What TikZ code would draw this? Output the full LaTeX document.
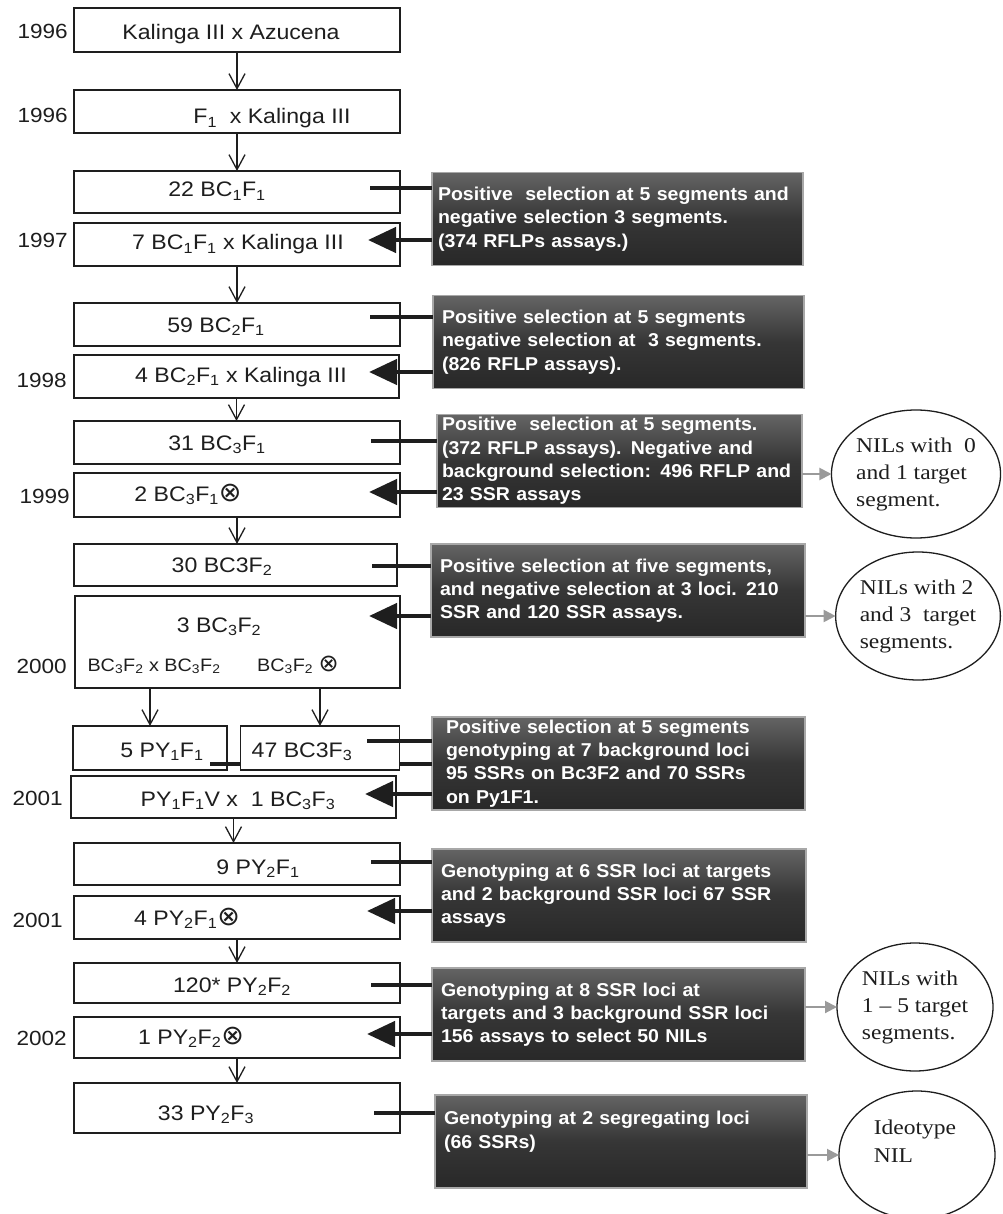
\documentclass[tikz,border=0pt]{standalone}
\usepackage{fontspec}
\usetikzlibrary{arrows.meta,shapes.geometric}
\newfontfamily\lfont{Liberation Sans}[FakeStretch=1.1]
\newfontfamily\dfont{Liberation Sans}[FakeStretch=1.05]
\newfontfamily\cfont{Liberation Serif}[FakeStretch=1.12]
\newfontfamily\symf{DejaVu Sans}
\definecolor{dbtop}{HTML}{646464}
\definecolor{dbmid}{HTML}{363636}
\definecolor{dbbot}{HTML}{282828}
\definecolor{dbedge}{HTML}{A8A8A8}
\definecolor{garr}{HTML}{9A9A9A}
\definecolor{ink}{HTML}{1E1E1E}
\newcommand\ox{{\symf\fontsize{27}{27}\selectfont ⊗}}
\newcommand\oxs{{\symf\fontsize{24}{24}\selectfont ⊗}}
\newcommand\sbs[1]{\textsubscript{#1}}
\tikzset{
 lbox/.style={draw=ink, line width=1.4pt, fill=white, rectangle, inner sep=0pt, outer sep=0pt},
 ltext/.style={anchor=base, inner sep=0pt, font=\lfont\fontsize{21}{25}\selectfont, text=ink},
 stext/.style={anchor=base, inner sep=0pt, font=\lfont\fontsize{18}{22}\selectfont, text=ink},
 ytext/.style={anchor=base east, inner sep=0pt, font=\lfont\fontsize{20.5}{25}\selectfont, text=ink},
 dbox/.style={rectangle, draw=dbedge, line width=1.2pt, top color=dbtop, bottom color=dbbot, middle color=dbmid, minimum height=93pt, inner xsep=9pt, inner ysep=0pt, outer sep=0pt, align=left, text=white, font=\dfont\bfseries\fontsize{18.6}{23.3}\selectfont},
 ell/.style={ellipse, draw=ink, line width=1.3pt, minimum width=156pt, minimum height=128pt, inner sep=0pt, outer sep=0pt, align=left, font=\cfont\fontsize{21}{27}\selectfont, text=ink},
 ctext/.style={inner sep=0pt, align=left, font=\cfont\fontsize{21}{28}\selectfont, text=ink},
 down/.style={draw=ink, line width=1.3pt, -{Straight Barb[length=15pt,width=16pt]}},
 heavy/.style={draw=ink, line width=4.5pt},
 back/.style={draw=ink, line width=4.5pt, -{Triangle[length=28pt,width=25pt]}},
 grayarrow/.style={draw=garr, line width=2pt, -{Triangle[length=12pt,width=12pt]}},
}
\begin{document}
\begin{tikzpicture}[x=1pt,y=-1pt]
\useasboundingbox (0,0) rectangle (1002,1214);
\fill[white] (0,0) rectangle (1002,1214);

% dark boxes
\node[dbox, inner xsep=6pt, text width=359pt] (db1) at (617.5,219) {Positive\ \ selection at 5 segments and\\negative selection 3 segments.\\(374 RFLPs assays.)};
\node[dbox, text width=353pt] (db2) at (618.5,342) {Positive selection at 5 segments\\negative selection at\ \ 3 segments.\\(826 RFLP assays).};
\node[dbox, inner xsep=5pt, text width=355pt] (db3) at (619.5,461) {Positive\ \ selection at 5 segments.\\(372 RFLP assays). Negative and\\background selection: 496 RFLP and\\23 SSR assays};
\node[dbox, text width=356pt] (db4) at (618,590.5) {Positive selection at five segments,\\and negative selection at 3 loci. 210\\SSR and 120 SSR assays.};
\node[dbox, inner xsep=14pt, text width=345pt] (db5) at (618.5,763.5) {Positive selection at 5 segments\\genotyping at 7 background loci\\95 SSRs on Bc3F2 and 70 SSRs\\on Py1F1.};
\node[dbox, text width=356pt] (db6) at (619,895.5) {Genotyping at 6 SSR loci at targets\\and 2 background SSR loci 67 SSR\\assays};
\node[dbox, text width=355pt] (db7) at (618.5,1014.5) {Genotyping at 8 SSR loci at\\targets and 3 background SSR loci\\156 assays to select 50 NILs};
\node[dbox, text width=354pt] (db8) at (621,1141.5) {Genotyping at 2 segregating loci\\(66 SSRs)\\\mbox{}};

% ellipses
\node[ell] (e1) at (916,474) {NILs with\ \ 0\\and 1 target\\segment.};
\node[ell] (e2) at (918,616) {NILs with 2\\and 3\ \ target\\segments.};
\node[ell] (e3) at (915,1007) {NILs with\\1 – 5 target\\segments.};
\node[ell] (e4) at (917,1155) {};
\node[ctext] (e4t) at (915,1141) {Ideotype\\NIL};

% left boxes
\node[lbox, minimum width=326pt, minimum height=44pt] (b1) at (237,30) {};
\node[lbox, minimum width=326pt, minimum height=43pt] (b2) at (237,111.5) {};
\node[lbox, minimum width=326pt, minimum height=42pt] (b3) at (237,192) {};
\node[lbox, minimum width=326pt, minimum height=43pt] (b4) at (237,244.5) {};
\node[lbox, minimum width=326pt, minimum height=43pt] (b5) at (237,324.5) {};
\node[lbox, minimum width=325pt, minimum height=43pt] (b6) at (236.5,376.5) {};
\node[lbox, minimum width=326pt, minimum height=43pt] (b7) at (237,442.5) {};
\node[lbox, minimum width=326pt, minimum height=44pt] (b8) at (237,495) {};
\node[lbox, minimum width=323pt, minimum height=42pt] (b9) at (235.5,565) {};
\node[lbox, minimum width=325pt, minimum height=92pt] (b10) at (237.5,642) {};
\node[lbox, minimum width=154pt, minimum height=44pt] (b11) at (150,748) {};
\coordinate (h5b) at (210,764);
\draw[heavy] (h5b) -- (h5b -| db5.west);
\node[lbox, minimum width=159pt, minimum height=44pt] (b12) at (320,748) {};
\node[lbox, minimum width=325pt, minimum height=42pt] (b13) at (233.5,797) {};
\node[lbox, minimum width=326pt, minimum height=42pt] (b14) at (237,864) {};
\node[lbox, minimum width=326pt, minimum height=43pt] (b15) at (237,917.5) {};
\node[lbox, minimum width=326pt, minimum height=40pt] (b16) at (237,983) {};
\node[lbox, minimum width=326pt, minimum height=41pt] (b17) at (237,1037.5) {};
\node[lbox, minimum width=326pt, minimum height=50pt] (b18) at (237,1108) {};

% box texts
\node[ltext] (t1) at (231,40) {Kalinga III x Azucena};
\node[ltext] (t2) at (272,124) {F\sbs{1}\ \ x Kalinga III};
\node[ltext] (t3) at (217,197) {22 BC\sbs{1}F\sbs{1}};
\node[ltext] (t4) at (238,250) {7 BC\sbs{1}F\sbs{1} x Kalinga III};
\node[ltext] (t5) at (216,332) {59 BC\sbs{2}F\sbs{1}};
\node[ltext] (t6) at (241,382) {4 BC\sbs{2}F\sbs{1} x Kalinga III};
\node[ltext] (t7) at (217,450) {31 BC\sbs{3}F\sbs{1}};
\node[ltext] (t8) at (188,501) {2 BC\sbs{3}F\sbs{1}\ox};
\node[ltext] (t9) at (222,572) {30 BC3F\sbs{2}};
\node[ltext] (t10) at (219,632) {3 BC\sbs{3}F\sbs{2}};
\node[stext] (t10a) at (154,671) {BC\sbs{3}F\sbs{2} x BC\sbs{3}F\sbs{2}};
\node[stext] (t10b) at (298,671) {BC\sbs{3}F\sbs{2} \oxs};
\node[ltext] (t11) at (162,757) {5 PY\sbs{1}F\sbs{1}};
\node[ltext] (t12) at (302,757) {47 BC3F\sbs{3}};
\node[ltext] (t13) at (238,806) {PY\sbs{1}F\sbs{1}V x\ \ 1 BC\sbs{3}F\sbs{3}};
\node[ltext] (t14) at (258,874) {9 PY\sbs{2}F\sbs{1}};
\node[ltext] (t15) at (187,925) {4 PY\sbs{2}F\sbs{1}\ox};
\node[ltext] (t16) at (232,992) {120* PY\sbs{2}F\sbs{2}};
\node[ltext] (t17) at (191,1044) {1 PY\sbs{2}F\sbs{2}\ox};
\node[ltext] (t18) at (206,1120) {33 PY\sbs{2}F\sbs{3}};

% years
\node[ytext] (y1) at (68,39) {1996};
\node[ytext] (y2) at (68,123) {1996};
\node[ytext] (y3) at (68,248) {1997};
\node[ytext] (y4) at (67,387) {1998};
\node[ytext] (y5) at (70,503) {1999};
\node[ytext] (y6) at (67,673) {2000};
\node[ytext] (y7) at (63,805) {2001};
\node[ytext] (y8) at (63,927) {2001};
\node[ytext] (y9) at (67,1045) {2002};

% thin downward arrows
\draw[down] (b1.south) -- (b2.north);
\draw[down] (b2.south) -- (b3.north);
\draw[down] (b4.south) -- (b5.north);
\draw[down] (b6.south) -- (b6.south |- b7.north);
\draw[down] (b8.south) -- (b8.south |- b9.north);
\draw[down] (b11.north |- b10.south) -- (b11.north);
\draw[down] (b12.north |- b10.south) -- (b12.north);
\draw[down] (b13.south) -- (b13.south |- b14.north);
\draw[down] (b15.south) -- (b16.north);
\draw[down] (b17.south) -- (b18.north);

% heavy lines and arrows
\coordinate (h1) at (370,188);  \draw[heavy] (h1) -- (h1 -| db1.west);
\coordinate (k1) at (368,240);  \draw[back] (k1 -| db1.west) -- (k1);
\coordinate (h2) at (370,317);  \draw[heavy] (h2) -- (h2 -| db2.west);
\coordinate (k2) at (369,372);  \draw[back] (k2 -| db2.west) -- (k2);
\coordinate (h3) at (371,441);  \draw[heavy] (h3) -- (h3 -| db3.west);
\coordinate (k3) at (369,492);  \draw[back] (k3 -| db3.west) -- (k3);
\coordinate (h4) at (372,566);  \draw[heavy] (h4) -- (h4 -| db4.west);
\coordinate (k4) at (369,616);  \draw[back] (k4 -| db4.west) -- (k4);
\coordinate (h5) at (367,741);  \draw[heavy] (h5) -- (h5 -| db5.west);
\coordinate (k5) at (365,794);  \draw[back] (k5 -| db5.west) -- (k5);
\coordinate (h6) at (371,862);  \draw[heavy] (h6) -- (h6 -| db6.west);
\coordinate (k6) at (367,911);  \draw[back] (k6 -| db6.west) -- (k6);
\coordinate (h7) at (371,985);  \draw[heavy] (h7) -- (h7 -| db7.west);
\coordinate (k7) at (367,1034); \draw[back] (k7 -| db7.west) -- (k7);
\coordinate (h8) at (374,1113); \draw[heavy] (h8) -- (h8 -| db8.west);

% gray arrows to ellipses
\draw[grayarrow] (db3.east |- e1.west) -- (e1.west);
\draw[grayarrow] (db4.east |- e2.west) -- (e2.west);
\draw[grayarrow] (db7.east |- e3.west) -- (e3.west);
\draw[grayarrow] (db8.east |- e4.west) -- (e4.west);
\end{tikzpicture}
\end{document}
